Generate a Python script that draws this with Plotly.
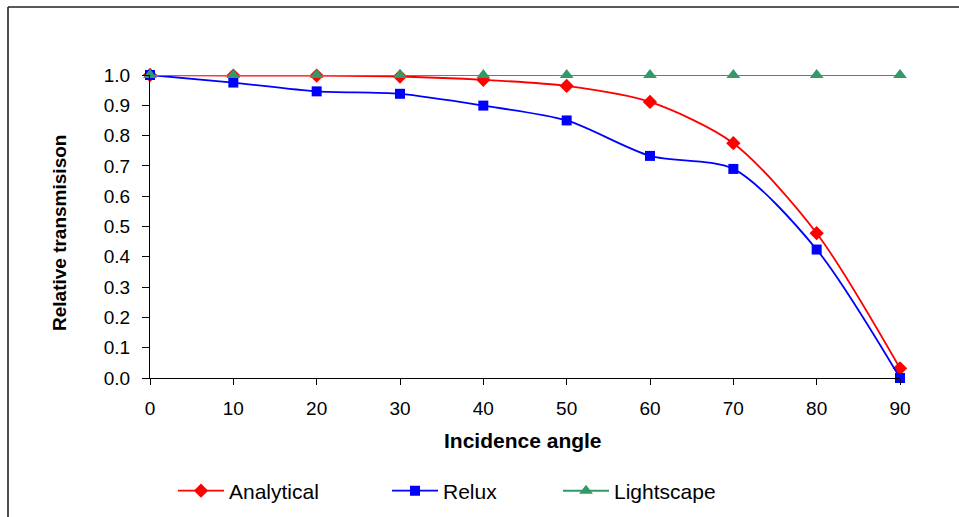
import plotly.graph_objects as go

angles = [0, 10, 20, 30, 40, 50, 60, 70, 80, 90]
analytical = [1.0, 0.998, 0.998, 0.995, 0.984, 0.964, 0.911, 0.775, 0.478, 0.032]
relux = [1.0, 0.975, 0.946, 0.938, 0.899, 0.850, 0.733, 0.690, 0.424, 0.0]
lightscape = [1.0, 1.0, 1.0, 1.0, 1.0, 1.0, 1.0, 1.0, 1.0, 1.0]

x_ticks = [0, 10, 20, 30, 40, 50, 60, 70, 80, 90]
y_ticks = [0.0, 0.1, 0.2, 0.3, 0.4, 0.5, 0.6, 0.7, 0.8, 0.9, 1.0]

FONT = "Liberation Sans, Arial, sans-serif"

# plot area in pixels
L, R, T, B = 150, 900, 75, 378
W, H = 959, 517


def px(xp):
    return (xp - L) / (R - L)


def py(yp):
    return (B - yp) / (B - T)


fig = go.Figure()
fig.add_trace(go.Scatter(
    x=angles, y=analytical, name="Analytical", mode="lines+markers",
    line=dict(color="#FF0000", width=1.8, shape="spline", smoothing=0.8),
    marker=dict(symbol="diamond", size=11, color="#FF0000"),
    legend="legend", cliponaxis=False))
fig.add_trace(go.Scatter(
    x=angles, y=relux, name="Relux", mode="lines+markers",
    line=dict(color="#0000FF", width=1.8, shape="spline", smoothing=0.8),
    marker=dict(symbol="square", size=10, color="#0000FF"),
    legend="legend2", cliponaxis=False))
fig.add_trace(go.Scatter(
    x=angles, y=lightscape, name="Lightscape", mode="lines+markers",
    line=dict(color="#339966", width=2),
    marker=dict(symbol="triangle-up", size=12, color="#339966"),
    legend="legend3", cliponaxis=False))

leg_common = dict(orientation="h", yanchor="middle", xanchor="left",
                  font=dict(family=FONT, size=21, color="#000000"),
                  bgcolor="rgba(0,0,0,0)", itemwidth=46,
                  tracegroupgap=0)

fig.update_layout(
    width=W, height=H,
    margin=dict(l=L, r=W - R, t=T, b=H - B, autoexpand=False),
    paper_bgcolor="white", plot_bgcolor="white",
    font=dict(family=FONT, size=18, color="#000000"),
    showlegend=True,
    legend=dict(x=px(173), y=py(491), **leg_common),
    legend2=dict(x=px(387), y=py(491), **leg_common),
    legend3=dict(x=px(558), y=py(491), **leg_common),
    xaxis=dict(
        range=[0, 90], tickvals=x_ticks, ticktext=[str(v) for v in x_ticks],
        showgrid=False, zeroline=False, showline=True, linecolor="#000000",
        linewidth=1, ticks="outside", ticklen=6, tickcolor="#000000",
        tickfont=dict(family=FONT, size=19), ticklabelstandoff=7,
    ),
    yaxis=dict(
        range=[0, 1.0], tickvals=y_ticks, ticktext=[f"{v:.1f}" for v in y_ticks],
        showgrid=False, zeroline=False, showline=True, linecolor="#000000",
        linewidth=1, ticks="outside", ticklen=7, tickcolor="#000000",
        tickfont=dict(family=FONT, size=19), ticklabelstandoff=8,
    ),
    annotations=[
        dict(text="<b>Incidence angle</b>", xref="paper", yref="paper",
             x=px(523), y=py(440), xanchor="center", yanchor="middle",
             showarrow=False, font=dict(family=FONT, size=21)),
        dict(text="<b>Relative transmisison</b>", xref="paper", yref="paper",
             x=px(59), y=py(233), xanchor="center", yanchor="middle",
             textangle=-90, showarrow=False, font=dict(family=FONT, size=19)),
    ],
    shapes=[
        dict(type="line", xref="paper", yref="paper",
             x0=px(8), x1=px(W + 5), y0=py(7), y1=py(7),
             line=dict(color="#222222", width=1.6)),
        dict(type="line", xref="paper", yref="paper",
             x0=px(8), x1=px(8), y0=py(7), y1=py(H + 5),
             line=dict(color="#222222", width=1.6)),
    ],
)

fig.write_html(
    "out.html",
    config={"displayModeBar": False},
    post_script="document.body.style.margin='0px';document.body.style.overflow='hidden';",
)
